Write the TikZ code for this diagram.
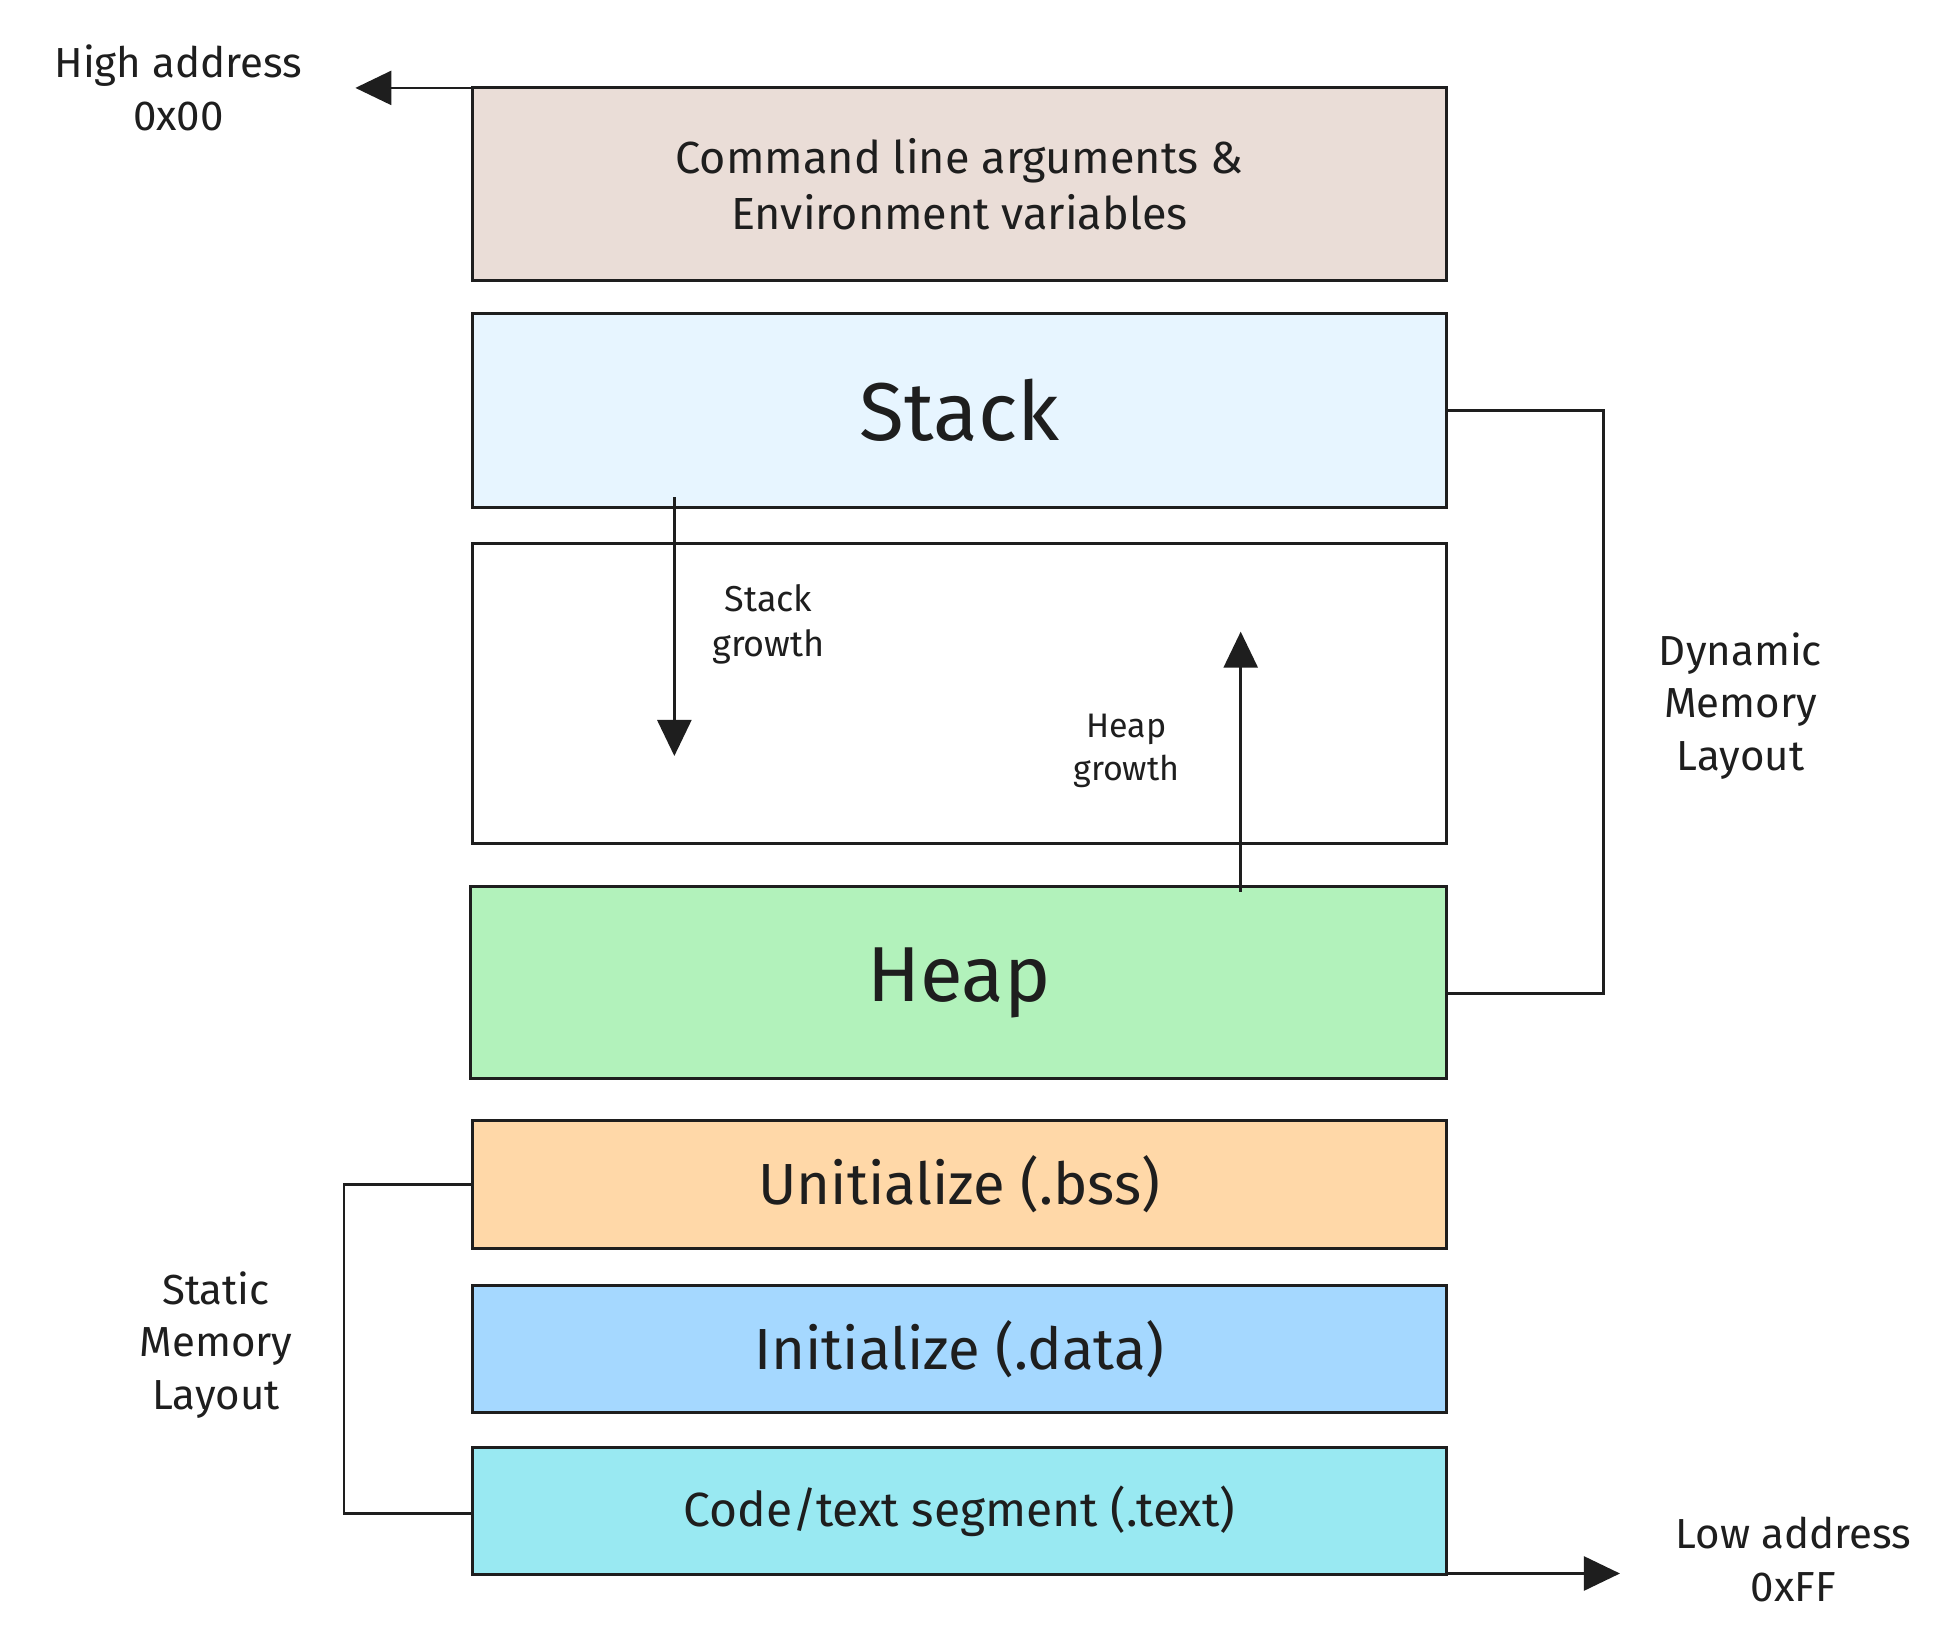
\documentclass[tikz,border=0pt]{standalone}
\usepackage{fontspec}
\setmainfont{Fira Sans}
\usetikzlibrary{arrows.meta}
\definecolor{ink}{HTML}{1E1E1E}
\begin{document}
\begin{tikzpicture}[x=1.256pt,y=-1.256pt,
  seg/.style={draw=ink,line width=3pt},
  lbl/.style={text=ink,align=center},
  arr/.style={draw=ink,line width=2.6pt,-{Triangle[length=36pt,width=34pt]}},
  fs/.style={font=\fontsize{#1pt}{1.25\dimexpr#1pt\relax}\selectfont}]
\useasboundingbox (0,0) rectangle (1560,1309);
\fill[white] (0,0) rectangle (1560,1309);
\definecolor{cmd}{HTML}{EADDD7}
\definecolor{stk}{HTML}{E7F5FF}
\definecolor{hp}{HTML}{B2F2BB}
\definecolor{bss}{HTML}{FFD8A8}
\definecolor{dat}{HTML}{A5D8FF}
\definecolor{txt}{HTML}{99E9F2}
\draw[seg,fill=cmd] (376,70) rectangle (1152,223) node[midway,lbl,fs=45] (c) {Command line arguments \&\\Environment variables};
\draw[seg,fill=stk] (376,250) rectangle (1152,404) node[midway,lbl,fs=82] (s) {Stack};
\draw[seg,fill=white] (376,433) rectangle (1152,672) coordinate (w);
\draw[seg,fill=hp] (375,706) rectangle (1152,859) node[midway,lbl,fs=78] (h) {Heap};
\draw[seg,fill=bss] (376,892) rectangle (1152,994) node[midway,lbl,fs=58] (b) {Unitialize (.bss)};
\draw[seg,fill=dat] (376,1024) rectangle (1152,1125) node[midway,lbl,fs=58] (d) {Initialize (.data)};
\draw[seg,fill=txt] (376,1153) rectangle (1152,1254) node[midway,lbl,fs=48] (t) {Code/text segment (.text)};
\coordinate (hi0) at (376,70); \coordinate (hi1) at (283,70);
\draw[arr] (hi0) -- (hi1);
\node[lbl,fs=42] (hl) at (142,70) {High address\\0x00};
\coordinate (lo0) at (1152,1253); \coordinate (lo1) at (1290,1253);
\draw[arr] (lo0) -- (lo1);
\node[lbl,fs=42] (ll) at (1428,1242) {Low address\\0xFF};
\coordinate (sg0) at (537,396); \coordinate (sg1) at (537,602);
\draw[arr] (sg0) -- (sg1);
\node[lbl,fs=36] (sgl) at (612,497) {Stack\\growth};
\coordinate (hg0) at (988,710); \coordinate (hg1) at (988,503);
\draw[arr] (hg0) -- (hg1);
\node[lbl,fs=34] (hgl) at (897,598) {Heap\\growth};
\coordinate (d0) at (1152,327); \coordinate (d1) at (1152,791);
\draw[ink,line width=2.6pt] (d0) -- (1277,327) -- (1277,791) -- (d1);
\node[lbl,fs=42] (dl) at (1386,562) {Dynamic\\Memory\\Layout};
\coordinate (s0) at (376,943); \coordinate (s1) at (376,1205);
\draw[ink,line width=2.6pt] (s0) -- (274,943) -- (274,1205) -- (s1);
\node[lbl,fs=42] (sl) at (172,1071) {Static\\Memory\\Layout};
\end{tikzpicture}
\end{document}
